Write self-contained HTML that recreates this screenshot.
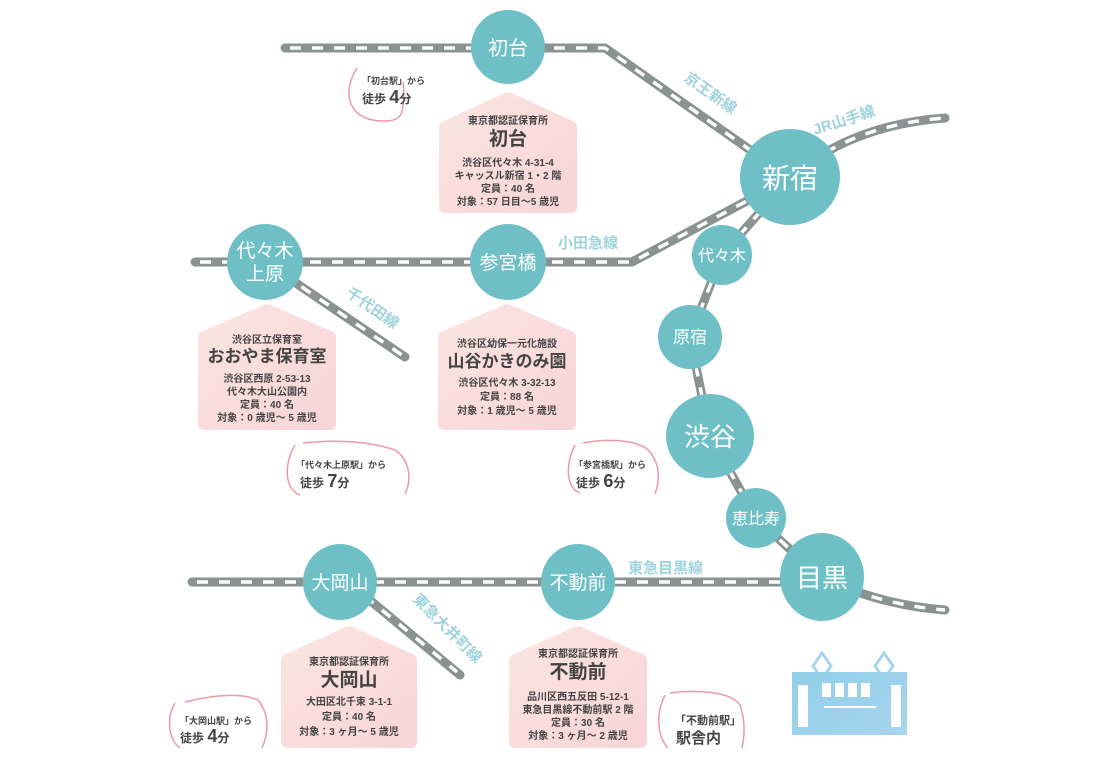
<!DOCTYPE html>
<html><head><meta charset="utf-8"><style>
html,body{margin:0;padding:0;background:#fff}
svg{display:block}
text{font-family:"Liberation Sans","Noto Sans CJK JP",sans-serif}
.st{fill:#fff;font-weight:normal;text-anchor:middle}
.ln{fill:#9fd3dc;font-weight:bold}
.h{fill:#444;text-anchor:middle;font-weight:bold}
.b{fill:#444;font-weight:bold}
</style></head><body>
<svg width="1100" height="763" viewBox="0 0 1100 763" xmlns="http://www.w3.org/2000/svg">
<defs>
<linearGradient id="pk" x1="0" y1="0" x2="1" y2="1"><stop offset="0" stop-color="#fbe5df"/><stop offset="1" stop-color="#f8d5d8"/></linearGradient>
<linearGradient id="tr" x1="0" y1="0" x2="1" y2="1"><stop offset="0" stop-color="#8fd0e8"/><stop offset="1" stop-color="#a9d4ee"/></linearGradient>
</defs>
<g fill="none" stroke-linecap="round" stroke-linejoin="round">
<g stroke="#8a9292" stroke-width="9">
<path d="M285,48 L605,48 L790,178"/>
<path d="M790,178 Q850,125 945,118"/>
<path d="M790,178 L722,255 L690,337 L710,436 L756,518 L820,577 Q880,605 945,610"/>
<path d="M195,262 L632,262 L790,178"/>
<path d="M265,262 L405,357"/>
<path d="M192,582 L820,582"/>
<path d="M348,582 L460,675"/>
</g>
<g stroke="#fff" stroke-width="3.5" stroke-dasharray="11 11" stroke-linecap="butt">
<path d="M290,48 L605,48 L790,178"/>
<path d="M790,178 Q850,125 945,118"/>
<path d="M790,178 L722,255 L690,337 L710,436 L756,518 L820,577 Q880,605 945,610"/>
<path d="M200,262 L632,262 L790,178"/>
<path d="M265,262 L402,355"/>
<path d="M197,582 L820,582"/>
<path d="M348,582 L457,672"/>
</g>
</g>
<text class="ln" font-size="15" transform="translate(683,80) rotate(35)">京王新線</text>
<text class="ln" font-size="15" transform="translate(815,135) rotate(-18)">JR山手線</text>
<text class="ln" font-size="15" x="558" y="248">小田急線</text>
<text class="ln" font-size="15" transform="translate(345,295) rotate(35)">千代田線</text>
<text class="ln" font-size="15" x="628" y="573">東急目黒線</text>
<text class="ln" font-size="15" transform="translate(412,600) rotate(45)">東急大井町線</text>
<g fill="#6fc0c6">
<ellipse cx="508" cy="47" rx="37" ry="37"/>
<ellipse cx="790" cy="177" rx="50" ry="48"/>
<circle cx="722" cy="255" r="30"/>
<circle cx="690" cy="337" r="32"/>
<ellipse cx="710" cy="436" rx="44" ry="42"/>
<circle cx="756" cy="518" r="30"/>
<ellipse cx="822" cy="577" rx="42" ry="44"/>
<ellipse cx="265" cy="262" rx="38" ry="38"/>
<ellipse cx="508" cy="262" rx="38" ry="38"/>
<ellipse cx="340" cy="582" rx="37" ry="38"/>
<ellipse cx="578" cy="582" rx="37" ry="38"/>
</g>
<text class="st" font-size="20" x="508" y="55">初台</text>
<text class="st" font-size="28" x="790" y="188">新宿</text>
<text class="st" font-size="16" x="722" y="261">代々木</text>
<text class="st" font-size="17" x="690" y="343">原宿</text>
<text class="st" font-size="26" x="710" y="446">渋谷</text>
<text class="st" font-size="16" x="756" y="524">恵比寿</text>
<text class="st" font-size="26" x="822" y="587">目黒</text>
<text class="st" font-size="19" x="265" y="257">代々木</text>
<text class="st" font-size="19" x="265" y="280">上原</text>
<text class="st" font-size="19" x="508" y="269">参宮橋</text>
<text class="st" font-size="19" x="340" y="589">大岡山</text>
<text class="st" font-size="19" x="578" y="589">不動前</text>
<g fill="url(#pk)" stroke="url(#pk)" stroke-width="12" stroke-linejoin="round">
<path d="M445,127 L508,98 L571,127 L571,207 L445,207 Z"/>
<path d="M204,337 L267,310 L330,337 L330,424 L204,424 Z"/>
<path d="M444,337 L507,310 L570,337 L570,424 L444,424 Z"/>
<path d="M287,660 L349,632 L411,660 L411,742 L287,742 Z"/>
<path d="M515,660 L578,632 L641,660 L641,742 L515,742 Z"/>
</g>
<text class="h" font-size="10" x="508" y="124">東京都認証保育所</text>
<text class="h" font-size="19" x="508" y="145">初台</text>
<text class="h" font-size="10" x="508" y="166">渋谷区代々木 4-31-4</text>
<text class="h" font-size="10" x="508" y="179">キャッスル新宿 1・2 階</text>
<text class="h" font-size="10" x="508" y="192">定員：40 名</text>
<text class="h" font-size="10" x="508" y="205">対象：57 日目～5 歳児</text>
<text class="h" font-size="10" x="267" y="343">渋谷区立保育室</text>
<text class="h" font-size="17" x="267" y="362">おおやま保育室</text>
<text class="h" font-size="10" x="267" y="382">渋谷区西原 2-53-13</text>
<text class="h" font-size="10" x="267" y="395">代々木大山公園内</text>
<text class="h" font-size="10" x="267" y="408">定員：40 名</text>
<text class="h" font-size="10" x="267" y="421">対象：0 歳児～ 5 歳児</text>
<text class="h" font-size="10" x="507" y="347">渋谷区幼保一元化施設</text>
<text class="h" font-size="17" x="507" y="367">山谷かきのみ園</text>
<text class="h" font-size="10" x="507" y="386">渋谷区代々木 3-32-13</text>
<text class="h" font-size="10" x="507" y="400">定員：88 名</text>
<text class="h" font-size="10" x="507" y="414">対象：1 歳児～ 5 歳児</text>
<text class="h" font-size="10" x="349" y="665">東京都認証保育所</text>
<text class="h" font-size="19" x="349" y="686">大岡山</text>
<text class="h" font-size="10" x="349" y="705">大田区北千束 3-1-1</text>
<text class="h" font-size="10" x="349" y="720">定員：40 名</text>
<text class="h" font-size="10" x="349" y="735">対象：3 ヶ月～ 5 歳児</text>
<text class="h" font-size="10" x="578" y="657">東京都認証保育所</text>
<text class="h" font-size="19" x="578" y="678">不動前</text>
<text class="h" font-size="10" x="578" y="700">品川区西五反田 5-12-1</text>
<text class="h" font-size="10" x="578" y="713">東急目黒線不動前駅 2 階</text>
<text class="h" font-size="10" x="578" y="726">定員：30 名</text>
<text class="h" font-size="10" x="578" y="739">対象：3 ヶ月～ 2 歳児</text>
<g fill="none" stroke="#ec9aa6" stroke-width="1.5">
<path d="M357,68 C340,95 350,122 385,121 C395,121 400,118 402,112 C403,105 405,95 403,82"/>
<path d="M295,445 C283,465 285,490 300,495 M303,443 C330,440 365,440 395,450 C410,460 412,480 405,494"/>
<path d="M575,445 C565,465 566,488 580,493 M583,443 C610,438 640,440 650,452 C660,465 660,480 655,494"/>
<path d="M175,703 C165,720 170,742 180,748 M185,702 C210,696 240,692 258,700 C268,712 270,730 262,748"/>
<path d="M665,695 C655,715 658,738 668,748 M670,693 C690,690 730,690 740,705 C745,718 745,735 742,748"/>
</g>
<text class="b" font-size="9" x="362" y="84">「初台駅」から</text>
<text class="b" font-size="12" x="362" y="103">徒歩 <tspan font-size="18">4</tspan>分</text>
<text class="b" font-size="9" x="296" y="468">「代々木上原駅」から</text>
<text class="b" font-size="12" x="300" y="487">徒歩 <tspan font-size="18">7</tspan>分</text>
<text class="b" font-size="9" x="574" y="468">「参宮橋駅」から</text>
<text class="b" font-size="12" x="576" y="487">徒歩 <tspan font-size="18">6</tspan>分</text>
<text class="b" font-size="9" x="180" y="724">「大岡山駅」から</text>
<text class="b" font-size="12" x="180" y="742">徒歩 <tspan font-size="18">4</tspan>分</text>
<text class="b" font-size="11" x="675" y="724">「不動前駅」</text>
<text class="b" font-size="15" x="676" y="743">駅舎内</text>
<g fill="none" stroke="#a6d6ec" stroke-width="3">
<path d="M813,666 L822,653 L831,666 L822,679 Z"/>
<path d="M875,666 L884,653 L893,666 L884,679 Z"/>
</g>
<path d="M792,672 L907,672 L907,735 L792,735 Z" fill="url(#tr)"/>
<g fill="#fff">
<rect x="798" y="685" width="10" height="42"/>
<rect x="891" y="685" width="10" height="42"/>
<rect x="822" y="683" width="9" height="14"/>
<rect x="835" y="683" width="9" height="14"/>
<rect x="848" y="683" width="9" height="14"/>
<rect x="861" y="683" width="9" height="14"/>
<rect x="824" y="706" width="52" height="2"/>
</g>
</svg>
</body></html>
